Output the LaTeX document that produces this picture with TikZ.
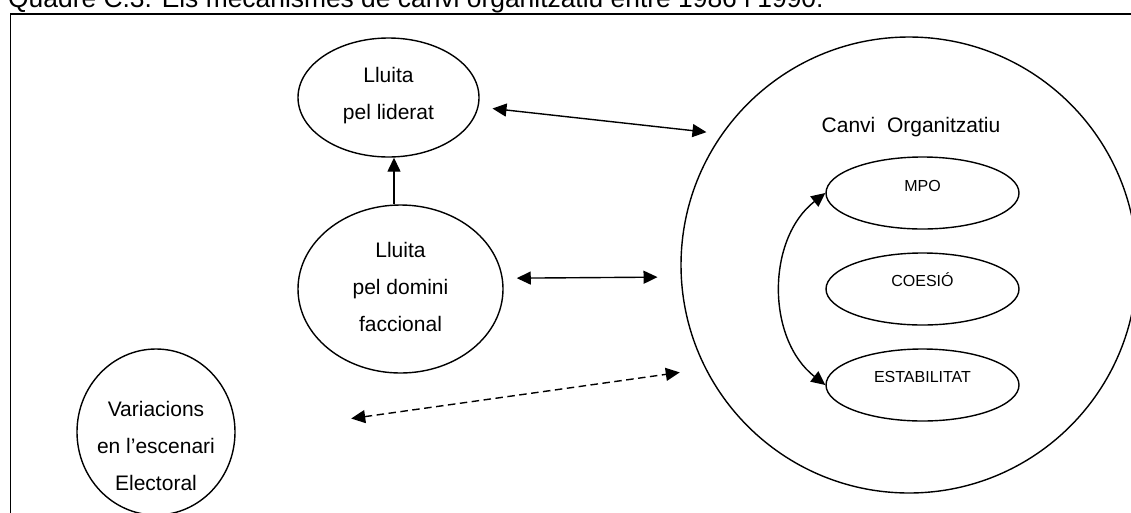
\documentclass[tikz,border=0pt]{standalone}
\usepackage{fontspec}
\setmainfont{Liberation Sans}
\usetikzlibrary{arrows.meta,shapes.geometric}
\begin{document}
\begin{tikzpicture}[x=1pt,y=-1pt,
  oval/.style={draw, ellipse, line width=1.4pt, inner sep=0pt},
  ring/.style={draw, circle, line width=1.4pt, inner sep=0pt},
  lbl/.style={anchor=base, inner sep=0pt, font=\fontsize{21}{37}\selectfont},
  slbl/.style={anchor=base, inner sep=0pt, font=\fontsize{16}{19}\selectfont},
  tip/.tip={Triangle[length=14pt,width=13pt]},
  link/.style={line width=1.4pt, tip-tip},
  uplink/.style={line width=1.4pt, -tip},
  dashlink/.style={link, dash pattern=on 7.5pt off 4.5pt},
]
\useasboundingbox (0,0) rectangle (1131,512);
\clip (0,0) rectangle (1131,512);

% caption and outer frame
\node[anchor=base west, inner sep=0pt, font=\fontsize{26.4}{30}\selectfont] (title) at (8,7.5)
  {Quadre C.3. Els mecanismes de canvi organitzatiu entre 1986 i 1990.};
\draw[line width=1.6pt] (10.3,600) -- (10.3,13.7) -- (1200,13.7);

% left-hand factors
\node[oval, minimum width=181pt, minimum height=119pt] (lid) at (388.5,97.5) {};
\node[lbl] (lidtxt) at (388.5,82) {\begin{tabular}[t]{@{}c@{}}Lluita\\pel liderat\end{tabular}};

\node[oval, minimum width=205pt, minimum height=168pt] (dom) at (400.5,289) {};
\node[lbl] (domtxt) at (400.5,257) {\begin{tabular}[t]{@{}c@{}}Lluita\\pel domini\\faccional\end{tabular}};

\node[oval, minimum width=158pt, minimum height=166pt] (var) at (156,432) {};
\node[lbl] (vartxt) at (156,416) {\begin{tabular}[t]{@{}c@{}}Variacions\\en l’escenari\\Electoral\end{tabular}};

% organisational change and its dimensions
\node[ring, minimum size=456pt] (canvi) at (909,265) {};
\node[lbl] (canvitxt) at (911,132) {Canvi~~Organitzatiu};

\node[oval, minimum width=193pt, minimum height=72pt] (mpo) at (922.5,193) {};
\node[slbl] (mpotxt) at (922.5,191) {MPO};
\node[oval, minimum width=193pt, minimum height=72pt] (coe) at (922.5,289) {};
\node[slbl] (coetxt) at (922.5,286) {COESIÓ};
\node[oval, minimum width=193pt, minimum height=72pt] (est) at (922.5,385) {};
\node[slbl] (esttxt) at (922.5,382) {ESTABILITAT};

% connectors
\draw[uplink] ([xshift=-6.5pt]dom.north) -- ([xshift=5.5pt]lid.south);
\draw[link, shorten <=14pt, shorten >=15.3pt] (lid.-6.7) -- (canvi.145.2);
\draw[link, shorten <=13.9pt, shorten >=23.1pt] (dom.6.35) -- (canvi.183.2);
\draw[dashlink, shorten <=116.7pt, shorten >=25.7pt] (var.-2.6) -- (canvi.207.9);
\draw[link] (mpo.west) to[bend right=52] (est.west);
\end{tikzpicture}
\end{document}
